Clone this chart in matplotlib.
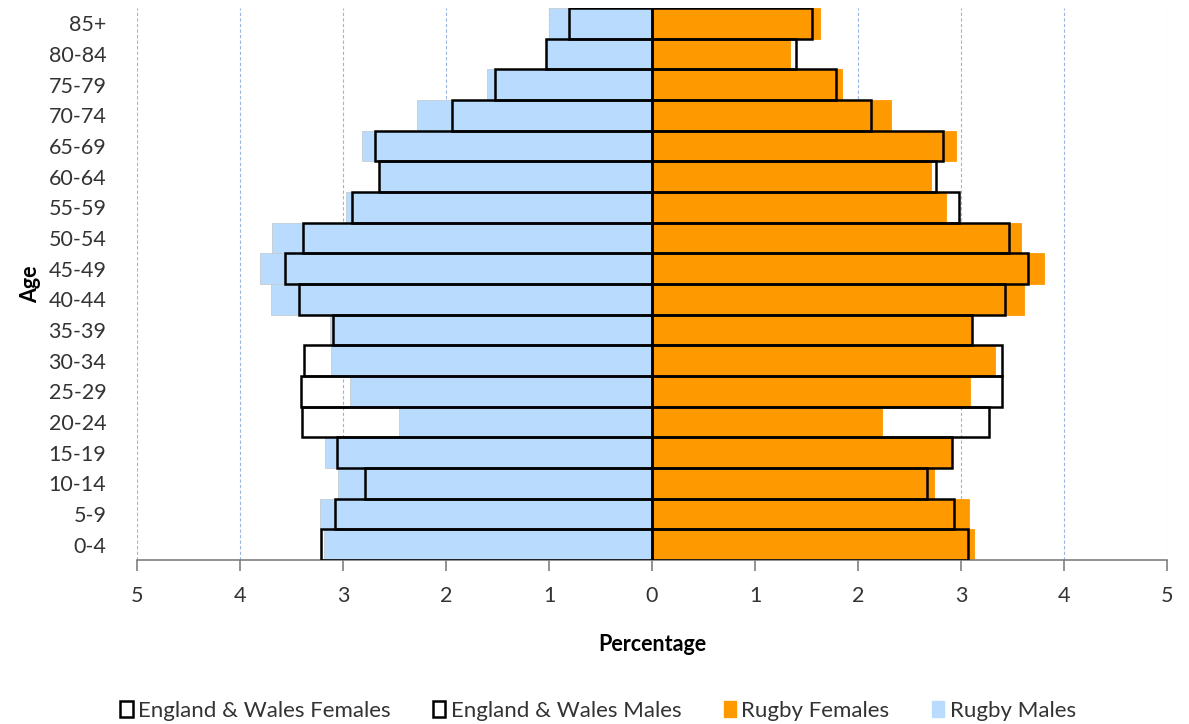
import numpy as np
import matplotlib.pyplot as plt
from matplotlib.patches import Patch

plt.rcParams['font.family'] = ['Lato', 'DejaVu Sans']

# Age bands, bottom to top
ages = ['0-4', '5-9', '10-14', '15-19', '20-24', '25-29', '30-34', '35-39', '40-44',
        '45-49', '50-54', '55-59', '60-64', '65-69', '70-74', '75-79', '80-84', '85+']

# Percentages (bottom to top)
rugby_males = [3.18, 3.22, 3.05, 3.17, 2.46, 2.93, 3.12, 3.13, 3.70,
               3.81, 3.69, 2.97, 2.64, 2.82, 2.28, 1.60, 1.02, 1.00]
ew_males = [3.21, 3.08, 2.79, 3.06, 3.40, 3.41, 3.38, 3.10, 3.43,
            3.56, 3.39, 2.91, 2.65, 2.69, 1.94, 1.52, 1.03, 0.81]
rugby_females = [3.13, 3.08, 2.74, 2.90, 2.23, 3.09, 3.33, 3.10, 3.61,
                 3.81, 3.58, 2.85, 2.71, 2.95, 2.32, 1.84, 1.34, 1.63]
ew_females = [3.07, 2.93, 2.67, 2.91, 3.27, 3.40, 3.40, 3.11, 3.43,
              3.65, 3.47, 2.98, 2.76, 2.83, 2.13, 1.79, 1.40, 1.55]

orange = '#ff9900'
blue = '#b9dcfe'

fig = plt.figure(figsize=(11.89, 7.24), dpi=100)
ax = fig.add_axes([0.1152, 0.2265, 0.8663, 0.7625])

y = np.arange(len(ages))

# Rugby bars (filled)
ax.barh(y, -np.array(rugby_males), height=1.0, color=blue, edgecolor='#c4ccd4', linewidth=0.6, zorder=2)
ax.barh(y, rugby_females, height=1.0, color=orange, edgecolor=orange, linewidth=0.6, zorder=2)

# England & Wales outlines
ax.barh(y, -np.array(ew_males), height=1.0, facecolor='none', edgecolor='black', linewidth=1.8, zorder=3)
ax.barh(y, ew_females, height=1.0, facecolor='none', edgecolor='black', linewidth=1.8, zorder=3)

ax.set_xlim(-5, 5)
ax.set_ylim(-0.5, len(ages) - 0.5)

ticks = np.arange(-5, 6)
ax.set_xticks(ticks)
ax.set_xticklabels([str(abs(t)) for t in ticks], fontsize=15.5, color='#333333')
ax.set_yticks(y)
ax.set_yticklabels(ages, fontsize=15.5, color='#333333')

for t in ticks:
    if t != 0:
        ax.axvline(t, color='#9ab6e0', linestyle=(0, (3, 2)), linewidth=0.8, zorder=1)

for s in ['top', 'right', 'left']:
    ax.spines[s].set_visible(False)
ax.spines['bottom'].set_color('#7f7f7f')
ax.spines['bottom'].set_linewidth(1.2)
ax.tick_params(axis='x', length=8, width=1.2, color='#7f7f7f', pad=11)
ax.tick_params(axis='y', length=0, pad=22)

ax.set_xlabel('Percentage', fontsize=15.5, fontweight='bold', labelpad=20)
ax.set_ylabel('Age', fontsize=15.5, fontweight='bold', labelpad=5)

handles = [
    Patch(facecolor='white', edgecolor='black', linewidth=1.8, label='England & Wales Females'),
    Patch(facecolor='white', edgecolor='black', linewidth=1.8, label='England & Wales Males'),
    Patch(facecolor=orange, edgecolor=orange, label='Rugby Females'),
    Patch(facecolor=blue, edgecolor=blue, label='Rugby Males'),
]
fig.legend(handles=handles, loc='center', bbox_to_anchor=(0.503, 0.018), ncol=4,
           frameon=False, fontsize=16, handlelength=0.55, handleheight=0.75,
           handletextpad=0.25, columnspacing=1.9, labelcolor='#333333')

fig.savefig('out.png', dpi=100)
